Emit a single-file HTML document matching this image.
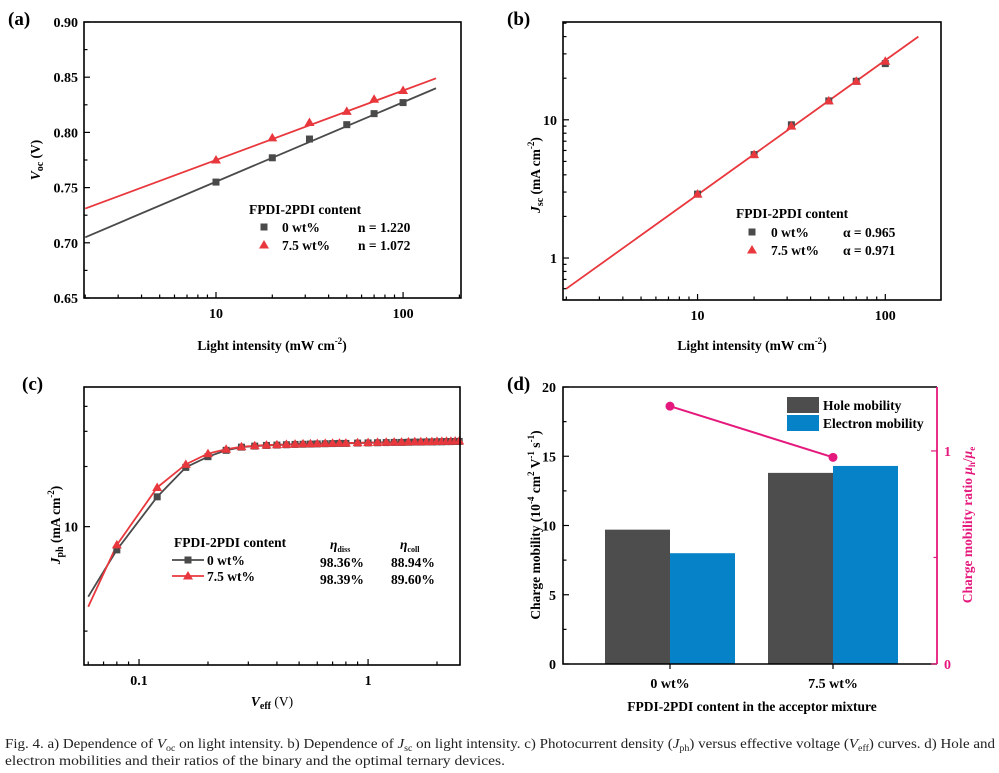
<!DOCTYPE html>
<html><head><meta charset="utf-8">
<style>
body{margin:0;background:#fff;width:999px;height:773px;overflow:hidden}
svg{display:block;font-family:"Liberation Serif",serif}
.t{font-weight:bold;font-size:14px}
.ax{font-weight:bold;font-size:13.5px}
.lb{font-weight:bold;font-size:19px}
.cap{font-size:13.5px;fill:#222}
</style></head><body>
<svg id="fig" width="999" height="773" viewBox="0 0 999 773">
<text class="lb" x="8" y="25">(a)</text>
<text class="lb" x="507" y="25">(b)</text>
<text class="lb" x="22" y="390">(c)</text>
<text class="lb" x="507" y="390">(d)</text>
<g id="ga"></g>
<g id="gb"></g>
<g id="gc"></g>
<g id="gd"></g>
<text class="cap" x="5" y="748" textLength="990" lengthAdjust="spacingAndGlyphs">Fig. 4.  a) Dependence of <tspan font-style="italic">V</tspan><tspan font-size="9" dy="3">oc</tspan><tspan dy="-3"> on light intensity. b) Dependence of </tspan><tspan font-style="italic">J</tspan><tspan font-size="9" dy="3">sc</tspan><tspan dy="-3"> on light intensity. c) Photocurrent density (</tspan><tspan font-style="italic">J</tspan><tspan font-size="9" dy="3">ph</tspan><tspan dy="-3">) versus effective voltage (</tspan><tspan font-style="italic">V</tspan><tspan font-size="9" dy="3">eff</tspan><tspan dy="-3">) curves. d) Hole and</tspan></text>
<text class="cap" x="5" y="765" textLength="500" lengthAdjust="spacingAndGlyphs">electron mobilities and their ratios of the binary and the optimal ternary devices.</text>
</svg>
<script>
// Panel a data
const aX=[10,20,31.6,50,70,100];
const aY0=[0.755,0.777,0.794,0.807,0.817,0.827];
const aY1=[0.775,0.795,0.809,0.819,0.830,0.838];
const aFitX=[2,150];
const aFit0=[0.705,0.840];
const aFit1=[0.731,0.849];
const aYTicks=[0.65,0.70,0.75,0.80,0.85,0.90];
// Panel b data
const bX=[10,20,31.6,50,70,100];
const bY0=[2.9,5.6,9.2,13.7,19.0,25.5];
const bY1=[2.9,5.6,9.0,13.7,19.0,26.5];
const bFitX=[2,150];
const bFit=[0.6,40];
// Panel c data
const cX=[0.06,0.08,0.12,0.16,0.2,0.24,0.28,0.32,0.36,0.4,0.44,0.48,0.52,0.56,0.6,0.65,0.7,0.75,0.8,0.9,1.0,1.1,1.2,1.3,1.4,1.5,1.6,1.7,1.8,1.9,2.0,2.1,2.2,2.3,2.4,2.5];
const cY0=[4.46,7.65,14.1,19.8,22.4,24.1,25.0,25.3,25.5,25.6,25.7,25.8,25.85,25.9,25.95,26.0,26.05,26.1,26.1,26.2,26.25,26.3,26.35,26.4,26.4,26.45,26.5,26.5,26.55,26.55,26.6,26.6,26.65,26.65,26.7,26.7];
const cY1=[3.97,8.1,15.7,20.5,23.2,24.4,25.1,25.4,25.6,25.7,25.8,25.9,25.95,26.0,26.05,26.1,26.15,26.2,26.2,26.3,26.35,26.4,26.45,26.5,26.5,26.55,26.6,26.6,26.65,26.65,26.7,26.7,26.75,26.75,26.8,26.85];
// Panel d data
const dCats=["0 wt%","7.5 wt%"];
const dHole=[9.7,13.8];
const dElec=[8.0,14.3];
const dRatio=[1.21,0.97];
const dYTicks=[0,5,10,15,20];

const NS="http://www.w3.org/2000/svg";
function mk(p,tag,at,txt){const e=document.createElementNS(NS,tag);for(const k in at)e.setAttribute(k,at[k]);if(txt!=null)e.textContent=txt;p.appendChild(e);return e;}
const lin=(d0,d1,r0,r1)=>v=>r0+(v-d0)/(d1-d0)*(r1-r0);
const lg=(d0,d1,r0,r1)=>v=>r0+(Math.log10(v)-Math.log10(d0))/(Math.log10(d1)-Math.log10(d0))*(r1-r0);
const GR="#4a4a4a",RD="#e8383d";
function box(g,x0,y0,x1,y1){const r=mk(g,'rect',{x:x0,y:y0,width:x1-x0,height:y1-y0,fill:'none',stroke:'#000','stroke-width':1.6});}
function logXTicks(g,sx,lo,hi,y1,labels){for(let d=Math.pow(10,Math.floor(Math.log10(lo)));d<hi;d*=10){for(let m=1;m<10;m++){const v=d*m;if(v<lo||v>hi)continue;const X=sx(v);const L=m==1?6:3.5;mk(g,'line',{x1:X,x2:X,y1:y1,y2:y1-L,stroke:'#000','stroke-width':1.2});if(m==1&&labels.includes(v)){const t=mk(g,'text',{x:X,y:y1+20,'text-anchor':'middle',class:'t'},String(v));}}}}
function logYTicks(g,sy,lo,hi,x0,labels){for(let d=Math.pow(10,Math.floor(Math.log10(lo)));d<hi;d*=10){for(let m=1;m<10;m++){const v=d*m;if(v<lo||v>hi)continue;const Y=sy(v);const L=m==1?6:3.5;mk(g,'line',{x1:x0,x2:x0+L,y1:Y,y2:Y,stroke:'#000','stroke-width':1.2});if(m==1&&labels.includes(v)){const t=mk(g,'text',{x:x0-6,y:Y+5,'text-anchor':'end',class:'t'},String(v));}}}}
function sq(g,x,y,c){mk(g,'rect',{x:x-3.5,y:y-3.5,width:7,height:7,fill:c});}
function tri(g,x,y,c){mk(g,'polygon',{points:`${x},${y-5} ${x-5},${y+3.5} ${x+5},${y+3.5}`,fill:c});}
function poly(g,xs,ys,sx,sy,c,w){const p=mk(g,'polyline',{points:xs.map((v,i)=>sx(v)+','+sy(ys[i])).join(' '),fill:'none',stroke:c,'stroke-width':w});return p;}

// ---- Panel a
(function(){const g=document.getElementById('ga');const x0=84,x1=461,y0=22,y1=298;
const sx=lg(1.97,204,x0,x1),sy=lin(0.65,0.90,y1,y0);
logXTicks(g,sx,1.97,204,y1,[10,100]);
aYTicks.forEach(v=>{const Y=sy(v);mk(g,'line',{x1:x0,x2:x0+6,y1:Y,y2:Y,stroke:'#000','stroke-width':1.2});const t=mk(g,'text',{x:x0-6,y:Y+5,'text-anchor':'end',class:'t'},v.toFixed(2));
 if(v<0.9){const Ym=sy(v+0.025);mk(g,'line',{x1:x0,x2:x0+3.5,y1:Ym,y2:Ym,stroke:'#000','stroke-width':1.2});}});
const l0=poly(g,aFitX,aFit0,sx,sy,GR,1.8);
const l1=poly(g,aFitX,aFit1,sx,sy,RD,1.8);
aX.forEach((v,i)=>{sq(g,sx(v),sy(aY0[i]),GR);tri(g,sx(v),sy(aY1[i]),RD);});
box(g,x0,y0,x1,y1);
const yl=mk(g,'text',{transform:'translate(40,160) rotate(-90)','text-anchor':'middle',class:'ax'});yl.innerHTML='<tspan font-style="italic">V</tspan><tspan font-size="10" dy="3">oc</tspan><tspan dy="-3"> (V)</tspan>';
const xl=mk(g,'text',{x:272,y:350,'text-anchor':'middle',class:'ax'});xl.innerHTML='Light intensity (mW cm<tspan font-size="9" dy="-6">-2</tspan><tspan dy="6">)</tspan>';
const lg1=mk(g,'g',{});
mk(lg1,'text',{x:249,y:214,class:'ax'},'FPDI-2PDI content');
sq(lg1,264,227,GR);mk(lg1,'text',{x:282,y:232,class:'ax'},'0 wt%');mk(lg1,'text',{x:358,y:232,class:'ax'},'n = 1.220');
tri(lg1,264,245,RD);mk(lg1,'text',{x:282,y:250,class:'ax'},'7.5 wt%');mk(lg1,'text',{x:358,y:250,class:'ax'},'n = 1.072');
})();

// ---- Panel b
(function(){const g=document.getElementById('gb');const x0=563,x1=941,y0=22,y1=300;
const sx=lg(1.92,198,x0,x1),sy=lg(0.497,51,y1,y0);
logXTicks(g,sx,1.92,198,y1,[10,100]);logYTicks(g,sy,0.497,51,x0,[1,10]);
const l=poly(g,bFitX,bFit,sx,sy,RD,1.8);
bX.forEach((v,i)=>{sq(g,sx(v),sy(bY0[i]),GR);tri(g,sx(v),sy(bY1[i]),RD);});
box(g,x0,y0,x1,y1);
const yl=mk(g,'text',{transform:'translate(540,175) rotate(-90)','text-anchor':'middle',class:'ax'});yl.innerHTML='<tspan font-style="italic">J</tspan><tspan font-size="10" dy="3">sc</tspan><tspan dy="-3"> (mA cm</tspan><tspan font-size="9" dy="-6">-2</tspan><tspan dy="6">)</tspan>';
const xl=mk(g,'text',{x:752,y:350,'text-anchor':'middle',class:'ax'});xl.innerHTML='Light intensity (mW cm<tspan font-size="9" dy="-6">-2</tspan><tspan dy="6">)</tspan>';
const lg1=mk(g,'g',{});
mk(lg1,'text',{x:736,y:218,class:'ax'},'FPDI-2PDI content');
sq(lg1,752,232,GR);mk(lg1,'text',{x:771,y:237,class:'ax'},'0 wt%');mk(lg1,'text',{x:843,y:237,class:'ax'},'α = 0.965');
tri(lg1,752,250,RD);mk(lg1,'text',{x:771,y:255,class:'ax'},'7.5 wt%');mk(lg1,'text',{x:843,y:255,class:'ax'},'α = 0.971');
})();

// ---- Panel c
(function(){const g=document.getElementById('gc');const x0=84,x1=460,y0=387,y1=665;
const sx=lg(0.0575,2.52,x0,x1),sy=lg(2.03,50,y1,y0);
logXTicks(g,sx,0.0575,2.52,y1,[0.1,1]);
[3,10,20,30,40].forEach(v=>{const Y=sy(v);mk(g,'line',{x1:x0,x2:x0+(v==10?6:3.5),y1:Y,y2:Y,stroke:'#000','stroke-width':1.2});});
const t=mk(g,'text',{x:x0-6,y:sy(10)+5,'text-anchor':'end',class:'t'},'10');
const l0=poly(g,cX,cY0,sx,sy,GR,1.8);
const l1=poly(g,cX,cY1,sx,sy,RD,1.8);
cX.forEach((v,i)=>{if(i==0)return;sq(g,sx(v),sy(cY0[i]),GR);tri(g,sx(v),sy(cY1[i]),RD);});
box(g,x0,y0,x1,y1);
const yl=mk(g,'text',{transform:'translate(60,525) rotate(-90)','text-anchor':'middle',class:'ax'});yl.innerHTML='<tspan font-style="italic">J</tspan><tspan font-size="10" dy="3">ph</tspan><tspan dy="-3"> (mA cm</tspan><tspan font-size="9" dy="-6">-2</tspan><tspan dy="6">)</tspan>';
const xl=mk(g,'text',{x:272,y:706,'text-anchor':'middle',class:'ax'});xl.innerHTML='<tspan font-style="italic">V</tspan><tspan font-size="10" dy="3">eff</tspan><tspan dy="-3" font-weight="normal">  (V)</tspan>';
const lg1=mk(g,'g',{});
mk(lg1,'text',{x:174,y:547,class:'ax'},'FPDI-2PDI content');
mk(lg1,'line',{x1:172,x2:204,y1:560,y2:560,stroke:GR,'stroke-width':1.8});sq(lg1,188,560,GR);mk(lg1,'text',{x:207,y:565,class:'ax'},'0 wt%');
mk(lg1,'line',{x1:172,x2:204,y1:576,y2:576,stroke:RD,'stroke-width':1.8});tri(lg1,188,576,RD);mk(lg1,'text',{x:207,y:581,class:'ax'},'7.5 wt%');
const e1=mk(lg1,'text',{x:330,y:549,class:'ax'});e1.innerHTML='<tspan font-style="italic">η</tspan><tspan font-size="8" dy="3">diss</tspan>';
const e2=mk(lg1,'text',{x:400,y:549,class:'ax'});e2.innerHTML='<tspan font-style="italic">η</tspan><tspan font-size="8" dy="3">coll</tspan>';
mk(lg1,'text',{x:320,y:567,class:'ax'},'98.36%');mk(lg1,'text',{x:391,y:567,class:'ax'},'88.94%');
mk(lg1,'text',{x:320,y:584,class:'ax'},'98.39%');mk(lg1,'text',{x:391,y:584,class:'ax'},'89.60%');
})();

// ---- Panel d
(function(){const g=document.getElementById('gd');const x0=563,x1=937,y0=387,y1=664;
const sy=lin(0,20,y1,y0),sr=lin(0,1.30,y1,y0);const cx=[670,833];const bw=65;const PK="#e5197d";
dYTicks.forEach(v=>{const Y=sy(v);mk(g,'line',{x1:x0,x2:x0+6,y1:Y,y2:Y,stroke:'#000','stroke-width':1.2});const t=mk(g,'text',{x:x0-7,y:Y+5,'text-anchor':'end',class:'t'},String(v));if(v<20){const Ym=sy(v+2.5);mk(g,'line',{x1:x0,x2:x0+3.5,y1:Ym,y2:Ym,stroke:'#000','stroke-width':1.2});}});
dCats.forEach((c,i)=>{const h=mk(g,'rect',{x:cx[i]-bw,y:sy(dHole[i]),width:bw,height:y1-sy(dHole[i]),fill:'#4d4d4d'});
 const e=mk(g,'rect',{x:cx[i],y:sy(dElec[i]),width:bw,height:y1-sy(dElec[i]),fill:'#0582c8'});
 mk(g,'line',{x1:cx[i],x2:cx[i],y1:y1,y2:y1+5,stroke:'#000','stroke-width':1.2});
 const t=mk(g,'text',{x:cx[i],y:y1+24,'text-anchor':'middle',class:'t'},c);});
const rl=mk(g,'polyline',{points:cx.map((x,i)=>x+','+sr(dRatio[i])).join(' '),fill:'none',stroke:PK,'stroke-width':2});
cx.forEach((x,i)=>{const c=mk(g,'circle',{cx:x,cy:sr(dRatio[i]),r:4.5,fill:PK});});
mk(g,'path',{d:`M${x1} ${y0} H${x0} V${y1} H${x1}`,fill:'none',stroke:'#000','stroke-width':1.6});
mk(g,'line',{x1:x1,x2:x1,y1:y0,y2:y1,stroke:PK,'stroke-width':1.8});
[0,0.5,1].forEach(v=>{const Y=sr(v);mk(g,'line',{x1:x1,x2:x1-(v==0.5?3.5:6),y1:Y,y2:Y,stroke:PK,'stroke-width':1.2});if(v!=0.5){const t=mk(g,'text',{x:x1+7,y:Y+5,class:'t',fill:PK},String(v));}});
const yl=mk(g,'text',{transform:'translate(540,525) rotate(-90)','text-anchor':'middle',class:'ax'});yl.innerHTML='Charge mobility (10<tspan font-size="9" dy="-6">-4</tspan><tspan dy="6"> cm</tspan><tspan font-size="9" dy="-6">2</tspan><tspan dy="6"> V</tspan><tspan font-size="9" dy="-6">-1</tspan><tspan dy="6"> s</tspan><tspan font-size="9" dy="-6">-1</tspan><tspan dy="6">)</tspan>';
const yr=mk(g,'text',{transform:'translate(972,525) rotate(-90)','text-anchor':'middle',class:'ax',fill:PK});yr.innerHTML='Charge mobility ratio <tspan font-style="italic">μ</tspan><tspan font-size="9" dy="3">h</tspan><tspan dy="-3">/</tspan><tspan font-style="italic">μ</tspan><tspan font-size="9" dy="3">e</tspan>';
const xl=mk(g,'text',{x:752,y:711,'text-anchor':'middle',class:'ax'},'FPDI-2PDI content in the acceptor mixture');
const lg1=mk(g,'g',{});
mk(lg1,'rect',{x:787,y:397,width:32,height:16,fill:'#4d4d4d'});mk(lg1,'text',{x:823,y:410,class:'ax'},'Hole mobility');
mk(lg1,'rect',{x:787,y:415,width:32,height:16,fill:'#0582c8'});mk(lg1,'text',{x:823,y:428,class:'ax'},'Electron mobility');
})();
</script>
</body></html>
